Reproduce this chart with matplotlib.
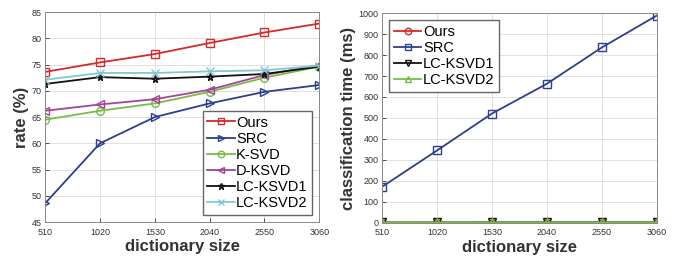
import matplotlib.pyplot as plt

plt.rcParams['font.family'] = ['Liberation Sans', 'DejaVu Sans']

dict_sizes = [510, 1020, 1530, 2040, 2550, 3060]

# recognition rate (%)
rate_ours = [73.6, 75.4, 77.0, 79.1, 81.1, 82.8]
rate_src = [48.6, 60.0, 65.0, 67.6, 69.8, 71.1]
rate_ksvd = [64.5, 66.2, 67.6, 69.8, 72.5, 74.6]
rate_dksvd = [66.2, 67.4, 68.4, 70.2, 73.0, 74.9]
rate_lcksvd1 = [71.3, 72.6, 72.3, 72.7, 73.2, 74.6]
rate_lcksvd2 = [72.1, 73.4, 73.4, 73.7, 73.9, 74.8]

# classification time (ms)
time_ours = [0.5, 0.6, 0.7, 0.8, 0.9, 1.0]
time_src = [172, 345, 521, 663, 836, 988]
time_lcksvd1 = [2.0, 2.2, 2.4, 2.6, 2.8, 3.0]
time_lcksvd2 = [2.0, 2.2, 2.4, 2.6, 2.8, 3.0]

RED = "#d42a2a"
BLUE = "#2c3f8f"
GREEN = "#77bd45"
PURPLE = "#a3449a"
BLACK = "#111111"
CYAN = "#80c8d2"
TXT = "#333333"

fig = plt.figure(figsize=(6.75, 2.61), dpi=100)
ax1 = fig.add_axes([0.067, 0.149, 0.406, 0.805])
ax2 = fig.add_axes([0.566, 0.146, 0.407, 0.804])

kw = dict(lw=1.3, ms=5.5, mfc="none", mew=1.0)
leg_kw = dict(fontsize=10.5, handlelength=1.9, handletextpad=0.1, borderpad=0.3,
              labelspacing=0.15, fancybox=False, edgecolor="#666666", framealpha=1,
              markerscale=0.85)

ax1.plot(dict_sizes, rate_ours, "-s", color=RED, label="Ours", **kw)
ax1.plot(dict_sizes, rate_src, "->", color=BLUE, label="SRC", **kw)
ax1.plot(dict_sizes, rate_ksvd, "-o", color=GREEN, label="K-SVD", **kw)
ax1.plot(dict_sizes, rate_dksvd, "-<", color=PURPLE, label="D-KSVD", **kw)
ax1.plot(dict_sizes, rate_lcksvd1, "-*", color=BLACK, label="LC-KSVD1", **kw)
ax1.plot(dict_sizes, rate_lcksvd2, "-x", color=CYAN, label="LC-KSVD2", **kw)
ax1.set_ylim(45, 85)
ax1.set_yticks(range(45, 86, 5))
ax1.set_ylabel("rate (%)", fontsize=12, fontweight="bold", color=TXT, labelpad=2)
ax1.legend(loc="lower right", **leg_kw)

ax2.plot(dict_sizes, time_ours, "-o", color=RED, label="Ours", **kw)
ax2.plot(dict_sizes, time_src, "-s", color=BLUE, label="SRC", **kw)
ax2.plot(dict_sizes, time_lcksvd1, "-v", color=BLACK, label="LC-KSVD1", **kw)
ax2.plot(dict_sizes, time_lcksvd2, "-^", color=GREEN, label="LC-KSVD2", **kw)
ax2.set_ylim(0, 1000)
ax2.set_yticks(range(0, 1001, 100))
ax2.set_ylabel("classification time (ms)", fontsize=12, fontweight="bold", color=TXT, labelpad=2)
ax2.legend(loc="upper left", **leg_kw)

for ax in (ax1, ax2):
    ax.set_xlim(510, 3060)
    ax.set_xticks(dict_sizes)
    ax.set_xlabel("dictionary size", fontsize=12, fontweight="bold", color=TXT, labelpad=2)
    ax.grid(True, color="#e0e0e0", lw=0.7)
    ax.set_axisbelow(True)
    ax.tick_params(direction="in", labelsize=6.5, colors=TXT, length=3, width=0.6)
    ax.tick_params(axis="x", pad=4)
    ax.tick_params(axis="y", pad=2.5)
    for s in ax.spines.values():
        s.set_color("#888888")
        s.set_linewidth(0.7)

fig.savefig("out.png", dpi=100)
